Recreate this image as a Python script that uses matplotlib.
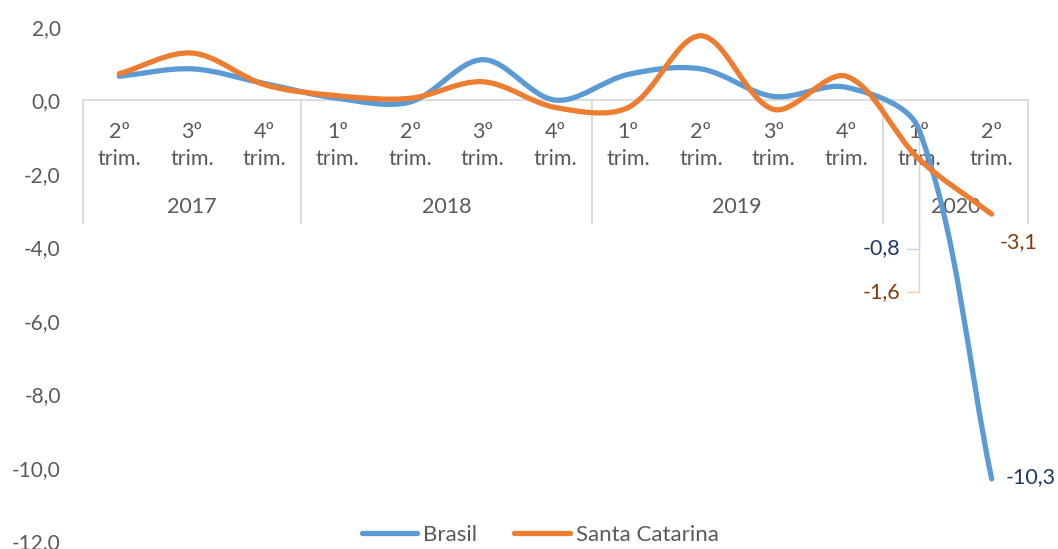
import matplotlib
matplotlib.use('Agg')
import matplotlib.pyplot as plt
import numpy as np
from matplotlib.path import Path
from matplotlib.patches import PathPatch
from matplotlib.lines import Line2D

trimestres = ['2º', '3º', '4º', '1º', '2º', '3º', '4º', '1º', '2º', '3º', '4º', '1º', '2º']
anos = ['2017', '2018', '2019', '2020']
trim_por_ano = [3, 4, 4, 2]
brasil = [0.65, 0.85, 0.45, 0.05, -0.05, 1.1, 0.0, 0.7, 0.85, 0.1, 0.35, -0.8, -10.3]
santa_catarina = [0.72, 1.28, 0.42, 0.12, 0.05, 0.5, -0.2, -0.2, 1.75, -0.25, 0.65, -1.6, -3.1]

azul = '#5B9BD5'
laranja = '#ED7D31'
cinza = '#595959'
linha_cinza = '#D9D9D9'

plt.rcParams['font.family'] = ['Lato', 'DejaVu Sans']
plt.rcParams['font.size'] = 15.5

fig = plt.figure(figsize=(10.58, 5.49), dpi=100)
ax = fig.add_axes([83 / 1058, 1 - 541.4 / 549, 945 / 1058, 514.8 / 549])
n = len(trimestres)
ax.set_xlim(-0.5, n - 0.5)
ax.set_ylim(-12, 2)
for s in ax.spines.values():
    s.set_visible(False)
ax.set_xticks([])
yt = np.arange(-12, 2.1, 2)
ax.set_yticks(yt)
ax.set_yticklabels([f'{v:.1f}'.replace('.', ',') for v in yt], color=cinza, fontsize=15)
ax.tick_params(axis='y', length=0, pad=16)


def smooth_path(xs, ys):
    # bezier parecido com a linha suavizada do Excel
    pts = ax.transData.transform(np.column_stack([xs, ys]))
    m = len(pts)
    verts = [pts[0]]
    codes = [Path.MOVETO]
    for i in range(m - 1):
        p0 = pts[max(i - 1, 0)]
        p1 = pts[i]
        p2 = pts[i + 1]
        p3 = pts[min(i + 2, m - 1)]
        d01 = np.hypot(*(p1 - p0))
        d12 = np.hypot(*(p2 - p1))
        d23 = np.hypot(*(p3 - p2))
        c1 = p1 + (p2 - p0) * d12 / (d01 + d12) / 3
        c2 = p2 - (p3 - p1) * d12 / (d12 + d23) / 3
        verts += [c1, c2, p2]
        codes += [Path.CURVE4] * 3
    verts = ax.transData.inverted().transform(np.array(verts))
    return Path(verts, codes)


x = np.arange(n)
for serie, cor in [(brasil, azul), (santa_catarina, laranja)]:
    patch = PathPatch(smooth_path(x, serie), fill=False, edgecolor=cor, lw=3.8,
                      capstyle='round', joinstyle='round', zorder=4, clip_on=False)
    ax.add_patch(patch)

# eixo de categorias em dois niveis
ax.plot([-0.5, n - 0.5], [0, 0], color=linha_cinza, lw=1.3, zorder=1, clip_on=False)
bordas = np.concatenate([[0], np.cumsum(trim_por_ano)]) - 0.5
for xb in bordas:
    ax.plot([xb, xb], [0, -3.33], color=linha_cinza, lw=1.3, zorder=1, clip_on=False)
for i, t in enumerate(trimestres):
    ax.annotate(t, xy=(i, 0), xytext=(0, -32), textcoords='offset pixels',
                ha='center', va='center', color=cinza, zorder=2)
    ax.annotate('trim.', xy=(i, 0), xytext=(0, -59), textcoords='offset pixels',
                ha='center', va='center', color=cinza, zorder=2)
for k, ano in enumerate(anos):
    xc = (bordas[k] + bordas[k + 1]) / 2
    ax.annotate(ano, xy=(xc, 0), xytext=(0, -107), textcoords='offset pixels',
                ha='center', va='center', color=cinza, zorder=2)

# rotulos de dados
azul_escuro = '#203864'
marrom = '#843C0C'


def rotulo(v):
    return f'{v:.1f}'.replace('.', ',')


ax.annotate(rotulo(brasil[11]), xy=(11, brasil[11]), xytext=(-19, -119),
            textcoords='offset pixels', ha='right', va='center', color=azul_escuro,
            arrowprops=dict(arrowstyle='-', color='#BDD7EE', lw=1, shrinkA=3, shrinkB=6,
                            relpos=(1, 0.5), connectionstyle='angle,angleA=0,angleB=90,rad=0'))
ax.annotate(rotulo(santa_catarina[11]), xy=(11, santa_catarina[11]), xytext=(-19, -133),
            textcoords='offset pixels', ha='right', va='center', color=marrom,
            arrowprops=dict(arrowstyle='-', color='#F8CBAD', lw=1, shrinkA=3, shrinkB=6,
                            relpos=(1, 0.5), connectionstyle='angle,angleA=0,angleB=90,rad=0'))
ax.annotate(rotulo(santa_catarina[12]), xy=(12, santa_catarina[12]), xytext=(27, -28),
            textcoords='offset pixels', ha='center', va='center', color=marrom)
ax.annotate(rotulo(brasil[12]), xy=(12, brasil[12]), xytext=(14, 2),
            textcoords='offset pixels', ha='left', va='center', color=azul_escuro)

handles = [Line2D([], [], color=azul, lw=3.8, solid_capstyle='round'),
           Line2D([], [], color=laranja, lw=3.8, solid_capstyle='round')]
fig.legend(handles, ['Brasil', 'Santa Catarina'], loc='center', fontsize=16,
           bbox_to_anchor=(540 / 1058, 1 - 535 / 549), ncol=2, frameon=False,
           handlelength=2.5, handletextpad=0.25, columnspacing=1.7, labelcolor=cinza)

fig.savefig('out.png', dpi=100)
